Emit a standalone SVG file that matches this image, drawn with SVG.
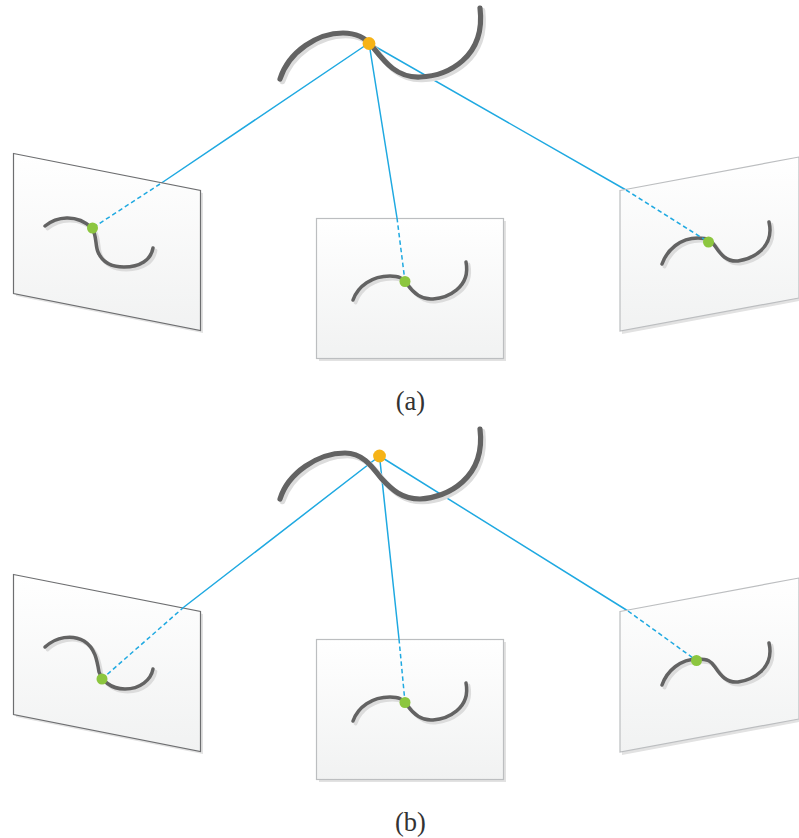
<svg xmlns="http://www.w3.org/2000/svg" width="799" height="838" viewBox="0 0 799 838">
<style>
.plane{fill:url(#pg)}
.dark{stroke:#6d6e70;stroke-width:1.2}
.light{stroke:#bcbec0;stroke-width:1.2}
.ps{fill:#e2e2e2}
.big,.small{fill:none;stroke:#636363;stroke-linecap:round}
.big{stroke-width:5.2}
.small{stroke-width:3.5}
.bs,.ss{fill:none;stroke:#dcdcdc;stroke-linecap:round}
.bs{stroke-width:5.6}
.ss{stroke-width:3.8}
.ray{stroke:#1fa9e1;stroke-width:1.5;fill:none}
.dash{stroke-dasharray:4.5 3}
.cap{font-family:"Liberation Serif",serif;font-size:26.5px;fill:#333;text-anchor:middle}
</style>
<defs>
<linearGradient id="pg" x1="0" y1="0" x2="0" y2="1"><stop offset="0" stop-color="#ffffff"/><stop offset="1" stop-color="#f1f2f2"/></linearGradient>
<path id="top-a" d="M280 79C289 51 318 33 343 33C356 33 365 37 372 46C384 61 396 78 420 77C447 76 486 58 480 8"/>
<path id="top-b" d="M280 499C288 473 318 453 345 453C362 453 371 465 381 478C392 490 402 499 420 499C447 498 486 478 480 429"/>
<path id="cl-a" d="M45 226C56 217 76 213 92 228C97 236 95 245 98 252C103 264 114 267 124 267C140 267 151 260 153 248"/>
<path id="cl-b" d="M45 647C56 637 72 634 84 641C95 648 97 660 99 672C102 680 110 689 125 689C140 689 151 680 153 669"/>
<path id="cc" d="M353 300C358 286 372 276 390 276C399 276 403 278 407 284C414 294 422 300 433 299C447 298 471 288 466 262"/>
<path id="cr" d="M662 264C667 250 680 238 698 238C708 238 711 240 715 246C721 255 727 262 738 261C752 259 775 248 769 222"/>
</defs>
<g id="connectors-a">
<path class="ray" d="M369 43L160 184M369 43L397 218M369 43L626 190"/>
</g>
<g id="curve-top-a"><use href="#top-a" class="bs" x="2.5" y="2.5"/><use href="#top-a" class="big"/></g>
<g id="plane-left-a">
<path class="ps" d="M16 156L203 193V333L16 296Z"/>
<path class="plane dark" d="M13.5 153.5L200.5 190.5V330.5L13.5 293.5Z"/>
<use href="#cl-a" class="ss" x="2.5" y="2.5"/><use href="#cl-a" class="small"/>
</g>
<g id="plane-center-a">
<path class="ps" d="M319 221H506V361H319Z"/>
<rect class="plane light" x="316.5" y="218.5" width="187" height="140"/>
<use href="#cc" class="ss" x="2.5" y="2.5"/><use href="#cc" class="small"/>
</g>
<g id="plane-right-a">
<path class="ps" d="M622 193L799 160V301L622 334Z"/>
<path class="plane light" d="M620 190.5L799 157V298L620 331Z"/>
<use href="#cr" class="ss" x="2.5" y="2.5"/><use href="#cr" class="small"/>
</g>
<g id="connectors-a-dashed">
<path class="ray dash" d="M160 184L92.5 228M397 218L405 281.5M626 190L708.5 242"/>
</g>
<circle id="point-top-a" cx="369" cy="43.5" r="6.4" fill="#f6b317"/>
<circle id="point-left-a" cx="92.5" cy="228" r="5.5" fill="#8cc63f"/>
<circle id="point-center-a" cx="405" cy="281.5" r="5.5" fill="#8cc63f"/>
<circle id="point-right-a" cx="708.5" cy="242" r="5.5" fill="#8cc63f"/>
<text id="caption-a" class="cap" x="410.5" y="410">(a)</text>

<g id="connectors-b">
<path class="ray" d="M379.5 456L184 607M379.5 456L399 639M379.5 456L628 611"/>
</g>
<g id="curve-top-b"><use href="#top-b" class="bs" x="2.5" y="2.5"/><use href="#top-b" class="big"/></g>
<g id="plane-left-b">
<path class="ps" d="M16 577L203 614V754L16 717Z"/>
<path class="plane dark" d="M13.5 574.5L200.5 611.5V751.5L13.5 714.5Z"/>
<use href="#cl-b" class="ss" x="2.5" y="2.5"/><use href="#cl-b" class="small"/>
</g>
<g id="plane-center-b">
<path class="ps" d="M319 642H506V782H319Z"/>
<rect class="plane light" x="316.5" y="639.5" width="187" height="140"/>
<use href="#cc" class="ss" x="2.5" y="423.5"/><use href="#cc" class="small" y="421"/>
</g>
<g id="plane-right-b">
<path class="ps" d="M622 614L799 581V722L622 755Z"/>
<path class="plane light" d="M620 611.5L799 578V719L620 752Z"/>
<use href="#cr" class="ss" x="2.5" y="423.5"/><use href="#cr" class="small" y="421"/>
</g>
<g id="connectors-b-dashed">
<path class="ray dash" d="M184 607L102 679M399 639L405 702.5M628 611L696.5 660.5"/>
</g>
<circle id="point-top-b" cx="379.5" cy="456" r="6.4" fill="#f6b317"/>
<circle id="point-left-b" cx="102" cy="679" r="5.5" fill="#8cc63f"/>
<circle id="point-center-b" cx="405" cy="702.5" r="5.5" fill="#8cc63f"/>
<circle id="point-right-b" cx="696.5" cy="660.5" r="5.5" fill="#8cc63f"/>
<text id="caption-b" class="cap" x="410.5" y="831">(b)</text>
</svg>
